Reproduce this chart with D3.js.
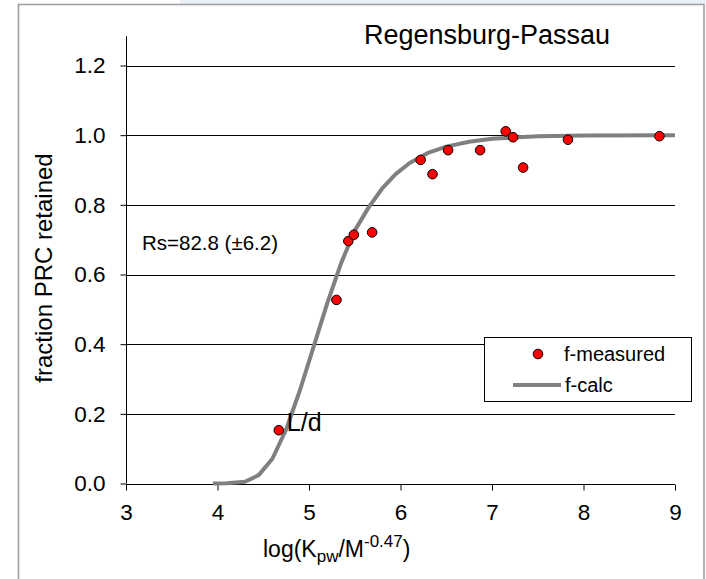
<!DOCTYPE html>
<html>
<head>
<meta charset="utf-8">
<script src="https://cdn.jsdelivr.net/npm/d3@7/dist/d3.min.js"></script>
<style>
  html, body { margin: 0; padding: 0; background: #ffffff; }
  svg { display: block; font-family: "Liberation Sans", Arial, Helvetica, sans-serif; }
</style>
</head>
<body>
<svg id="chart" width="706" height="579"></svg>
<script>
// Measured fraction of PRC retained at each log(Kpw/M^-0.47)
const measuredX = [4.67, 5.30, 5.43, 5.49, 5.69, 6.22, 6.35, 6.52, 6.87, 7.15, 7.23, 7.34, 7.83, 8.83];
const measuredY = [0.153, 0.527, 0.696, 0.714, 0.721, 0.929, 0.888, 0.957, 0.957, 1.011, 0.994, 0.907, 0.987, 0.997];

// Calculated fraction curve (f-calc)
const calcX = [3.95, 4.10, 4.30, 4.45, 4.60, 4.75, 4.90, 5.05, 5.20, 5.35, 5.50, 5.65, 5.80, 5.95, 6.10, 6.30, 6.50, 6.75, 7.00, 7.50, 8.00, 9.00];
const calcY = [0.000, 0.001, 0.005, 0.024, 0.071, 0.155, 0.267, 0.392, 0.518, 0.632, 0.726, 0.792, 0.847, 0.889, 0.920, 0.949, 0.967, 0.981, 0.990, 0.997, 0.999, 1.000];

const xTicks = [3, 4, 5, 6, 7, 8, 9];
const yTicks = [0.0, 0.2, 0.4, 0.6, 0.8, 1.0, 1.2];

const titleText = "Regensburg-Passau";
const rsText = "Rs=82.8 (\u00B16.2)";
const pointLabel = "L/d";
const legendLabels = ["f-measured", "f-calc"];

const svg = d3.select("#chart");
const FONT = "Liberation Sans, Arial, sans-serif";

// page background details
svg.append("rect").attr("x", 180).attr("y", 0).attr("width", 526).attr("height", 4)
  .attr("fill", "#e9f0f8");
svg.append("rect").attr("x", 18.5).attr("y", 4.5).attr("width", 685.5).attr("height", 620)
  .attr("fill", "#ffffff").attr("stroke", "#a0a0a0").attr("stroke-width", 1.6);

const x = d3.scaleLinear().domain([3, 9]).range([126, 675]);
const y = d3.scaleLinear().domain([0, 1.2]).range([483.5, 65.5]);
const yTop = 1.284;

// horizontal gridlines
svg.append("g").selectAll("line")
  .data(yTicks.filter(d => d > 0))
  .join("line")
  .attr("x1", x(3)).attr("x2", x(9))
  .attr("y1", d => Math.round(y(d)) + 0.5).attr("y2", d => Math.round(y(d)) + 0.5)
  .attr("stroke", "#000").attr("stroke-width", 1);

// y axis
const yAxis = d3.axisLeft(y).tickValues(yTicks).tickFormat(d3.format(".1f"))
  .tickSize(6).tickPadding(15);
const gy = svg.append("g").attr("transform", `translate(${x(3) + 0.5},0)`).call(yAxis);
gy.select(".domain").remove();
gy.append("line").attr("x1", 0).attr("x2", 0).attr("y1", y(yTop)).attr("y2", y(0))
  .attr("stroke", "#000");
gy.selectAll(".tick line").attr("stroke", "#000");
gy.selectAll(".tick text").attr("fill", "#000").attr("font-size", 22.5)
  .attr("font-family", FONT);

// x axis
const xAxis = d3.axisBottom(x).tickValues(xTicks).tickFormat(d3.format("d"))
  .tickSize(6).tickPadding(14);
const gx = svg.append("g").attr("transform", `translate(0,${Math.round(y(0)) + 0.5})`).call(xAxis);
gx.select(".domain").attr("d", `M${x(3)},0H${x(9)}`).attr("stroke", "#000");
gx.selectAll(".tick line").attr("stroke", "#000");
gx.selectAll(".tick text").attr("fill", "#000").attr("font-size", 22.5)
  .attr("font-family", FONT);

// calculated curve
const line = d3.line().x(d => x(d[0])).y(d => y(d[1]));
svg.append("path")
  .datum(calcX.map((v, i) => [v, calcY[i]]))
  .attr("d", line)
  .attr("fill", "none").attr("stroke", "#808080").attr("stroke-width", 4)
  .attr("stroke-linejoin", "round");

// measured points
svg.append("g").selectAll("circle")
  .data(measuredX.map((v, i) => [v, measuredY[i]]))
  .join("circle")
  .attr("cx", d => x(d[0])).attr("cy", d => y(d[1])).attr("r", 4.8)
  .attr("fill", "#ff0000").attr("stroke", "#000").attr("stroke-width", 1);

// label next to the first point
svg.append("text")
  .attr("x", x(measuredX[0]) + 8).attr("y", y(measuredY[0]) + 0.5)
  .attr("font-size", 25).attr("fill", "#000").text(pointLabel);

// title and annotation
svg.append("text").attr("x", 487).attr("y", 44).attr("text-anchor", "middle")
  .attr("font-size", 27).attr("fill", "#000").text(titleText);
svg.append("text").attr("x", 142).attr("y", 250)
  .attr("font-size", 20.5).attr("fill", "#000").text(rsText);

// axis titles
const xt = svg.append("text").attr("x", 263).attr("y", 557)
  .attr("font-size", 23).attr("fill", "#000");
xt.append("tspan").text("log(K");
xt.append("tspan").attr("font-size", 17).attr("dy", 5).text("pw");
xt.append("tspan").attr("dy", -5).text("/M");
xt.append("tspan").attr("font-size", 17).attr("dy", -10).text("-0.47");
xt.append("tspan").attr("dy", 10).text(")");

svg.append("text")
  .attr("transform", "translate(52,268) rotate(-90)")
  .attr("text-anchor", "middle").attr("font-size", 24).attr("fill", "#000")
  .text("fraction PRC retained");

// legend
const lg = svg.append("g");
lg.append("rect").attr("x", 484.5).attr("y", 337.5).attr("width", 207).attr("height", 64)
  .attr("fill", "#fff").attr("stroke", "#000").attr("stroke-width", 1);
lg.append("circle").attr("cx", 538).attr("cy", 354).attr("r", 4.8)
  .attr("fill", "#ff0000").attr("stroke", "#000").attr("stroke-width", 1);
lg.append("text").attr("x", 564).attr("y", 361).attr("font-size", 20).attr("fill", "#000")
  .text(legendLabels[0]);
lg.append("line").attr("x1", 513).attr("x2", 561).attr("y1", 385).attr("y2", 385)
  .attr("stroke", "#808080").attr("stroke-width", 4);
lg.append("text").attr("x", 565).attr("y", 392).attr("font-size", 20).attr("fill", "#000")
  .text(legendLabels[1]);
</script>
</body>
</html>
